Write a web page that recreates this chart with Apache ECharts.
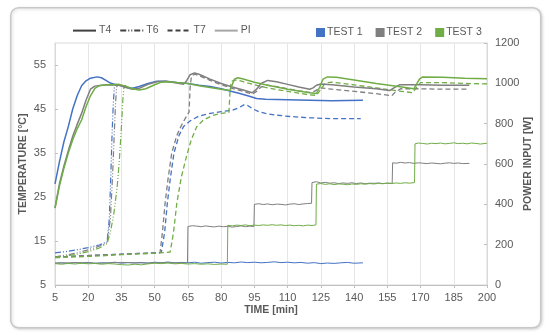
<!DOCTYPE html>
<html>
<head>
<meta charset="utf-8">
<script src="https://cdn.jsdelivr.net/npm/echarts@6/dist/echarts.min.js"></script>
<style>
html,body{margin:0;padding:0;background:#fff;}
#chart{width:550px;height:335px;}
</style>
</head>
<body>
<div id="chart"></div>
<script>
// ---- Data (time [min], value) ----
const xTicks = [5, 20, 35, 50, 65, 80, 95, 110, 125, 140, 155, 170, 185, 200];
const testNames = ['TEST 1', 'TEST 2', 'TEST 3'];
const sensorNames = ['T4', 'T6', 'T7', 'PI'];

// TEST 1 (blue)
const t4Test1 = [[5,28],[7,33],[9,37.5],[11,41],[13,45],[15,48],[17,50.3],[19,51.4],[21,52],[24,52.3],[26,52.1],[28,51.5],[30,50.9],[32,50.6],[35,50.3],[38,49.9],[40,49.7],[43,50.1],[47,50.8],[51,51.3],[55,51.3],[60,51],[65,50.8],[70,50.4],[75,50.1],[80,49.6],[84,49.1],[88,48.6],[92,48],[96,47.4],[100,47.2],[110,47.1],[120,47],[130,46.9],[144,47]];
const t6Test1 = [[5,12.3],[10,12.6],[15,13],[20,13.5],[25,14.1],[28.5,14.8],[29.5,20],[30.2,30],[30.8,40],[31.3,46],[31.8,50],[32.5,50.5]];
const t7Test1 = [[5,11.3],[15,11.6],[25,11.8],[35,12],[45,12.2],[53,12.4],[54.5,17],[55.7,23.6],[57,29],[58.7,35],[61,39],[63,41],[66,42.3],[70,43.4],[75,44],[80,44.4],[85,44.7],[88,45.3],[90.5,46],[92,45.8],[94,45.1],[97,44.4],[100,44],[105,43.6],[111,43.3],[120,43],[130,42.8],[143,42.8]];
const piTest1 = [[5,107],[8,110],[11,106],[14,111],[17,108],[20,112],[23,107],[26,110],[29,109],[32,113],[35,108],[38,111],[41,109],[44,112],[47,108],[50,113],[53,110],[56,114],[59,109],[62,112],[65,110],[68,113],[71,108],[74,111],[77,113],[80,109],[83,112],[86,110],[89,114],[92,111],[95,113],[98,110],[101,112],[104,115],[107,111],[110,113],[113,110],[116,112],[119,108],[122,111],[125,106],[128,109],[131,107],[134,110],[137,112],[140,108],[144,110]];

// TEST 2 (grey)
const t4Test2 = [[5,22.5],[7,28],[9,32],[11,35.5],[13,38.8],[15,41.5],[17,44],[19,47],[21,49.5],[23,50.2],[26,50.4],[30,50.5],[34,50.4],[37,49.9],[40,49.5],[43,49.7],[47,50.6],[51,51.2],[55,51.3],[60,50.9],[63,50.6],[64.5,51.5],[66,52.8],[68,53.2],[70,52.9],[75,51.8],[80,50.8],[85,50],[90,49.3],[94,48.7],[96,49.5],[98,50.8],[101,51.5],[105,51.2],[110,50.6],[115,50],[120,49.5],[121.5,49.8],[123,50.4],[125,50.7],[130,50.5],[140,50],[150,49.6],[156,49.2],[158,49.8],[160.5,50.5],[170,50.5],[180,50.4],[192,50.4]];
const t6Test2 = [[5,11.4],[10,11.8],[15,12.3],[20,13],[25,13.8],[28.5,14.6],[30,20],[31,30],[31.8,40],[32.3,46],[32.8,50],[33.5,50.5]];
const t7Test2 = [[5,11.3],[15,11.6],[25,11.8],[35,12],[45,12.2],[52.4,12.3],[53.5,17],[54.7,23.6],[56,29],[57.7,35],[60,39],[62,41.2],[64.5,43.5],[65.5,44.3],[66,50],[66.6,52.5],[68,52.9],[70,52.6],[75,51.5],[80,50.5],[85,49.7],[90,49],[94,48.4],[96,49],[98,50],[101,50.4],[105,50.1],[110,49.6],[115,49.1],[121,48.7],[123,49.3],[125,49.8],[130,49.5],[140,49],[150,48.5],[157,48],[158.5,48.8],[161,49.6],[170,49.6],[180,49.5],[192,49.5]];
const piTest2 = [[5,109],[15,111],[25,108],[35,112],[45,109],[55,111],[64.8,110],[65,290],[67,294],[69,292],[71,289],[73,293],[75,290],[77,288],[79,292],[81,289],[83,291],[85,287],[87,290],[89,293],[91,289],[93,292],[94.8,290],[95,400],[97,403],[99,399],[101,402],[103,398],[105,401],[107,400],[109,397],[111,401],[113,403],[115,399],[117,402],[119,404],[120.8,405],[121,508],[123,512],[125,506],[127,509],[129,505],[131,507],[133,503],[135,506],[137,504],[139,507],[141,503],[143,506],[145,502],[147,505],[149,504],[151,506],[153,503],[155,505],[157.2,504],[157.4,606],[159,604],[161,608],[163,605],[165,607],[167,603],[169,606],[171,604],[173,602],[175,605],[177,603],[179,601],[181,604],[183,606],[185,603],[187,605],[189,602],[192,603]];

// TEST 3 (green)
const t4Test3 = [[5,22.5],[7,27.5],[9,31.5],[11,35],[13,38],[15,40.5],[17,42.5],[19,45.5],[21,48],[23,49.7],[25,50.3],[28,50.5],[31,50.5],[34,50.6],[37,50.2],[40,49.6],[43,49.3],[46,49.6],[50,50.5],[53,51.1],[56,51.2],[60,51],[65,50.8],[70,50.3],[75,49.9],[80,49.5],[84,49.2],[85,50.5],[86,51.8],[87.5,52.1],[90,51.8],[95,51.1],[100,50.5],[105,50],[110,49.5],[115,49.1],[120,48.7],[123,48.5],[124.5,50],[126,51.8],[128,52.3],[132,52.2],[140,51.6],[150,50.8],[160,50.1],[167,49.6],[168,50.5],[169.5,51.8],[171,52.3],[180,52.2],[190,52],[200,51.9]];
const t6Test3 = [[5,11.3],[10,11.6],[15,12],[20,12.6],[25,13.4],[28.5,14.4],[30,17],[31.5,21],[33,27],[34,33],[35,41],[35.6,47],[36.2,50.3],[37,50.3]];
const t7Test3 = [[5,11.2],[15,11.4],[25,11.6],[35,11.9],[45,12.1],[55,12.4],[57,12.5],[58.5,17],[60,23.6],[62,29.5],[64.5,34.5],[66.5,38],[69,41],[72,42.5],[76,43.5],[80,44],[83.5,44.2],[84,49],[84.6,51.3],[87,51.6],[90,51.2],[95,50.5],[100,49.9],[105,49.4],[110,49],[115,48.6],[120,48.2],[123,48.1],[125,49.5],[127,50.9],[130,51.1],[140,50.5],[150,49.8],[160,49.1],[166.5,48.7],[168,49.8],[170,51],[180,51],[190,50.8],[200,50.7]];
const piTest3 = [[5,106],[8,103],[11,107],[14,104],[17,108],[20,105],[23,107],[26,103],[29,106],[32,104],[35,101],[38,99],[41,103],[44,100],[47,105],[50,108],[53,106],[56,109],[59,105],[62,107],[65,104],[68,106],[71,103],[74,105],[77,102],[80,104],[82.8,103],[83,296],[85,293],[87,297],[89,295],[91,298],[93,294],[95,297],[97,295],[99,298],[101,296],[103,299],[105,296],[107,298],[109,295],[111,297],[113,294],[115,296],[117,293],[119,297],[121,295],[122.8,298],[123,500],[125,503],[127,499],[129,502],[131,498],[133,501],[135,500],[137,497],[139,501],[141,499],[143,502],[145,500],[147,503],[149,501],[151,504],[153,502],[155,505],[157,503],[159,506],[161,504],[163,507],[165,505],[167.3,508],[167.5,700],[169,704],[171,702],[173,699],[175,703],[177,701],[179,704],[181,700],[183,702],[185,705],[187,701],[189,703],[191,700],[193,704],[195,702],[197,699],[200,703]];

// ---- Styles ----
const testColors = ['#4472C4', '#7F7F7F', '#70AD47'];
const FONT = '"Liberation Sans", Arial, sans-serif';
const textCol = '#595959';
const dashT6 = [6, 2, 1, 2, 1, 2];
const dashT7 = [5, 3];

const tests = [
  {t4: t4Test1, t6: t6Test1, t7: t7Test1, pi: piTest1},
  {t4: t4Test2, t6: t6Test2, t7: t7Test2, pi: piTest2},
  {t4: t4Test3, t6: t6Test3, t7: t7Test3, pi: piTest3}
];

const series = [];
function lineSeries(name, data, color, yIdx, width, type, z) {
  return {name, type: 'line', data, yAxisIndex: yIdx, symbol: 'none', silent: true, z,
    lineStyle: {color, width, type}, itemStyle: {color}};
}
tests.forEach((d, i) => series.push(lineSeries('PI ' + testNames[i], d.pi, testColors[i], 1, 1, 'solid', 2)));
tests.forEach((d, i) => series.push(lineSeries('T7 ' + testNames[i], d.t7, testColors[i], 0, 1.3, dashT7, 3)));
tests.forEach((d, i) => series.push(lineSeries('T6 ' + testNames[i], d.t6, testColors[i], 0, 1.2, dashT6, 3)));
tests.forEach((d, i) => series.push(lineSeries('T4 ' + testNames[i], d.t4, testColors[i], 0, 1.5, 'solid', 4)));

// legend dummy series
const legendLineStyles = [
  {color: '#404040', width: 1.5, type: 'solid'},
  {color: '#404040', width: 1.3, type: dashT6},
  {color: '#404040', width: 1.5, type: dashT7},
  {color: '#A6A6A6', width: 1, type: 'solid'}
];
sensorNames.forEach((n, i) => series.push({name: n, type: 'line', data: [], symbol: 'none',
  lineStyle: legendLineStyles[i], itemStyle: {color: legendLineStyles[i].color}}));
testNames.forEach((n, i) => series.push({name: n, type: 'line', data: [], symbol: 'none',
  lineStyle: {color: testColors[i]}, itemStyle: {color: testColors[i]}}));

const chart = echarts.init(document.getElementById('chart'), null, {renderer: 'canvas'});
chart.setOption({
  animation: false,
  backgroundColor: '#fff',
  textStyle: {fontFamily: FONT},
  graphic: [{
    type: 'rect', left: 10, top: 7, z: -10,
    shape: {width: 530, height: 320, r: 8},
    style: {fill: '#fff', stroke: '#C8C8C8', lineWidth: 1.5,
      shadowBlur: 3, shadowColor: 'rgba(0,0,0,0.15)', shadowOffsetX: 1, shadowOffsetY: 1}
  }],
  legend: [
    {data: sensorNames, left: 67, top: 20, padding: 5, itemWidth: 23, itemHeight: 14, itemGap: 8,
     itemStyle: {opacity: 0},
     textStyle: {color: textCol, fontSize: 10.5, fontFamily: FONT, padding: [0, 0, 0, -2]}, selectedMode: false},
    {data: testNames.map(n => ({name: n, icon: 'rect'})), left: 311, top: 22, padding: 5, itemWidth: 9, itemHeight: 9, itemGap: 13,
     textStyle: {color: textCol, fontSize: 10.5, fontFamily: FONT, padding: [0, 0, 0, -3]}, selectedMode: false}
  ],
  grid: {left: 55, right: 63, top: 43, bottom: 50, show: true, borderColor: '#D9D9D9', borderWidth: 1},
  xAxis: {
    type: 'value', min: xTicks[0], max: xTicks[xTicks.length - 1], interval: 15,
    name: 'TIME [min]', nameLocation: 'middle', nameGap: 20, nameMoveOverlap: false,
    nameTextStyle: {color: textCol, fontWeight: 'bold', fontSize: 10.5, fontFamily: FONT},
    axisLine: {show: true, lineStyle: {color: '#BFBFBF'}},
    axisTick: {show: true, length: 3, lineStyle: {color: '#BFBFBF'}},
    splitLine: {show: true, lineStyle: {color: '#E6E6E6'}},
    axisLabel: {color: textCol, fontSize: 11, margin: 7, fontFamily: FONT}
  },
  yAxis: [
    {type: 'value', min: 5, max: 60, interval: 10, position: 'left',
     name: 'TEMPERATURE [°C]', nameLocation: 'middle', nameGap: 26, nameMoveOverlap: false,
     nameTextStyle: {color: textCol, fontWeight: 'bold', fontSize: 10.5, fontFamily: FONT},
     axisLine: {show: true, lineStyle: {color: '#D9D9D9'}},
     axisTick: {show: true, length: 3, inside: true, lineStyle: {color: '#BFBFBF'}},
     splitLine: {show: false},
     axisLabel: {color: textCol, fontSize: 11, margin: 9, showMaxLabel: false, fontFamily: FONT}},
    {type: 'value', min: 0, max: 1200, interval: 200, position: 'right',
     name: 'POWER INPUT [W]', nameLocation: 'middle', nameGap: 36, nameMoveOverlap: false,
     nameTextStyle: {color: textCol, fontWeight: 'bold', fontSize: 10.5, fontFamily: FONT},
     axisLine: {show: true, lineStyle: {color: '#D9D9D9'}},
     axisTick: {show: true, length: 3, inside: true, lineStyle: {color: '#BFBFBF'}},
     splitLine: {show: false},
     axisLabel: {color: textCol, fontSize: 11, margin: 8, fontFamily: FONT, formatter: v => String(v)}}
  ],
  series
});
</script>
</body>
</html>
